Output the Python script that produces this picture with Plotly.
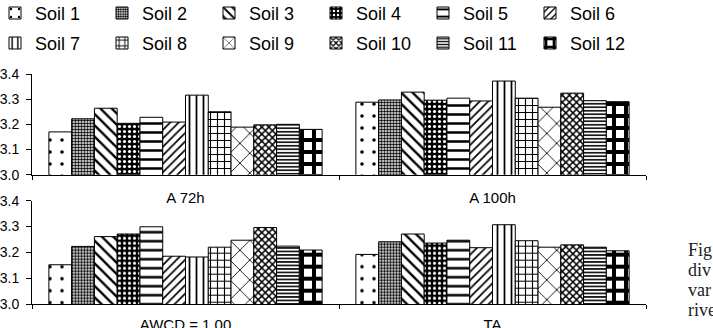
import plotly.graph_objects as go

# ---------------- data ----------------
soils = ["Soil 1", "Soil 2", "Soil 3", "Soil 4", "Soil 5", "Soil 6",
         "Soil 7", "Soil 8", "Soil 9", "Soil 10", "Soil 11", "Soil 12"]
top_categories = ["A 72h", "A 100h"]
bottom_categories = ["AWCD = 1.00", "TA"]

a72h = [3.170, 3.222, 3.264, 3.204, 3.228, 3.209, 3.316, 3.250, 3.189, 3.198, 3.200, 3.180]
a100h = [3.288, 3.297, 3.328, 3.296, 3.304, 3.293, 3.372, 3.304, 3.268, 3.324, 3.294, 3.290]
awcd = [3.152, 3.223, 3.261, 3.271, 3.299, 3.185, 3.182, 3.220, 3.247, 3.296, 3.224, 3.209]
ta = [3.192, 3.241, 3.271, 3.236, 3.247, 3.218, 3.307, 3.245, 3.220, 3.229, 3.220, 3.206]

y_ticks = [3.0, 3.1, 3.2, 3.3, 3.4]
side_text = ["Fig", "div", "var", "rive"]

# ---------------- styles ----------------
patterns = [
    dict(shape=".", size=12, solidity=0.07, fgcolor="black", bgcolor="white"),
    dict(shape=".", size=3, solidity=0.55, fgcolor="black", bgcolor="white"),
    dict(shape="\\", size=8, solidity=0.3, fgcolor="black", bgcolor="white"),
    dict(shape=".", size=5, solidity=0.3, fgcolor="white", bgcolor="black"),
    dict(shape="-", size=9, solidity=0.28, fgcolor="black", bgcolor="white"),
    dict(shape="/", size=6, solidity=0.28, fgcolor="black", bgcolor="white"),
    dict(shape="|", size=7, solidity=0.25, fgcolor="black", bgcolor="white"),
    dict(shape="+", size=7, solidity=0.3, fgcolor="black", bgcolor="white"),
    dict(shape="x", size=14, solidity=0.12, fgcolor="black", bgcolor="white"),
    dict(shape="x", size=5, solidity=0.5, fgcolor="black", bgcolor="white"),
    dict(shape="-", size=3.5, solidity=0.45, fgcolor="black", bgcolor="white"),
    dict(shape="+", size=12, solidity=0.55, fgcolor="black", bgcolor="white"),
]
for p in patterns:
    p["fgopacity"] = 1

W, H = 713, 328
ML, MR, MT, MB = 32, 67, 74, 24
PW = W - ML - MR
PH = H - MT - MB


def px_x(x):
    return (x - ML) / PW


def px_y(y):
    return (H - MB - y) / PH


fig = go.Figure()
for i, s in enumerate(soils):
    mk = dict(color="white", line=dict(color="black", width=1), pattern=patterns[i])
    fig.add_trace(go.Bar(
        x=top_categories, y=[a72h[i], a100h[i]], name=s,
        xaxis="x", yaxis="y", marker=mk,
        legend="legend" if i < 6 else "legend2",
        offsetgroup=str(i),
    ))
    fig.add_trace(go.Bar(
        x=bottom_categories, y=[awcd[i], ta[i]], name=s,
        xaxis="x2", yaxis="y2", marker=mk, showlegend=False,
        offsetgroup=str(i),
    ))

font = dict(family="Liberation Sans, Arial, sans-serif", color="black")

common_x = dict(
    type="category", showline=True, linecolor="black", linewidth=1,
    ticks="outside", ticklen=4, tickcolor="black", tickson="boundaries",
    showgrid=False, zeroline=False, tickfont=dict(size=15, **font),
    automargin=False,
)
common_y = dict(
    range=[3.0, 3.4], tickvals=y_ticks, tickformat=".1f",
    showline=True, linecolor="black", linewidth=1,
    ticks="outside", ticklen=5, tickcolor="black",
    showgrid=False, zeroline=False, tickfont=dict(size=14, **font),
    automargin=False, ticklabelstandoff=4,
)

top_dom = [1 - (174.7 - MT) / PH, 1.0]
bot_dom = [0.0, 1 - (200.7 - MT) / PH]

legend_common = dict(
    orientation="h", xanchor="left", yanchor="middle",
    entrywidth=62, entrywidthmode="pixels",
    font=dict(size=18, **font), bgcolor="rgba(0,0,0,0)",
    traceorder="normal",
)

annotations = []
for k, t in enumerate(side_text):
    annotations.append(dict(
        text=t, xref="paper", yref="paper",
        x=px_x(686), y=px_y(249.5 + 20.3 * k),
        xanchor="left", yanchor="middle", showarrow=False,
        font=dict(family="Liberation Serif, DejaVu Serif, serif", size=18, color="#222"),
    ))

fig.update_layout(
    width=W, height=H,
    margin=dict(l=ML, r=MR, t=MT, b=MB, autoexpand=False),
    paper_bgcolor="white", plot_bgcolor="white",
    barmode="group", bargap=0.11, bargroupgap=0,
    xaxis=dict(domain=[0, 1], anchor="y", ticklabelstandoff=9, **common_x),
    yaxis=dict(domain=top_dom, anchor="x", **common_y),
    xaxis2=dict(domain=[0, 1], anchor="y2", ticklabelstandoff=7, **common_x),
    yaxis2=dict(domain=bot_dom, anchor="x2", **common_y),
    legend=dict(x=px_x(-5), y=px_y(13.3), **legend_common),
    legend2=dict(x=px_x(-5), y=px_y(43.3), **legend_common),
    annotations=annotations,
    font=font,
    showlegend=True,
)

fig.write_html("out.html")
